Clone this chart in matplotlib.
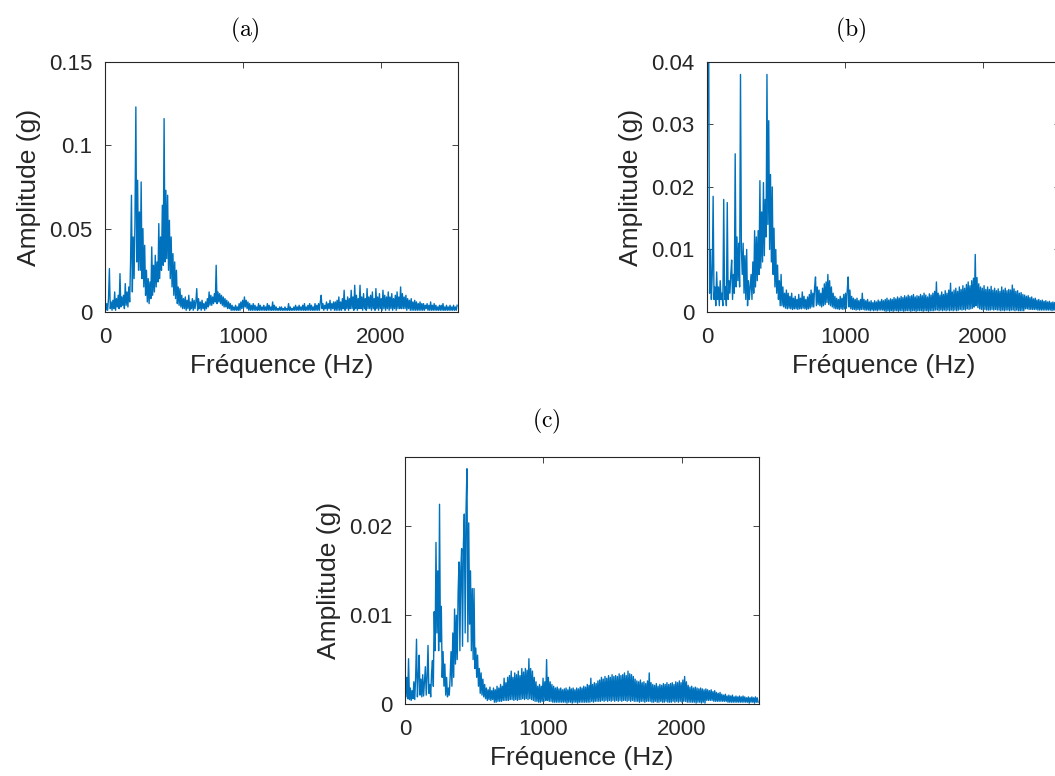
import numpy as np
import matplotlib.pyplot as plt

# FFT bin spacing of the acceleration spectra (Hz)
bin_step = 6.4

# spectrum (a), one row per 128 Hz
amp_a = [
    [0.003, 0.001, 0.005, 0.001, 0.008, 0.026, 0.002, 0.006, 0.001, 0.007, 0.002, 0.012, 0.001, 0.008, 0.003, 0.010, 0.002, 0.023, 0.003, 0.009],
    [0.004, 0.010, 0.002, 0.017, 0.004, 0.012, 0.003, 0.015, 0.006, 0.030, 0.070, 0.012, 0.045, 0.020, 0.055, 0.123, 0.030, 0.079, 0.025, 0.060],
    [0.025, 0.078, 0.020, 0.050, 0.015, 0.040, 0.010, 0.025, 0.006, 0.020, 0.005, 0.018, 0.008, 0.039, 0.010, 0.028, 0.012, 0.034, 0.015, 0.030],
    [0.018, 0.053, 0.020, 0.045, 0.025, 0.064, 0.028, 0.116, 0.030, 0.073, 0.032, 0.070, 0.025, 0.055, 0.020, 0.045, 0.015, 0.035, 0.010, 0.030],
    [0.008, 0.025, 0.005, 0.015, 0.004, 0.014, 0.003, 0.010, 0.002, 0.008, 0.002, 0.009, 0.001, 0.007, 0.002, 0.010, 0.001, 0.006, 0.002, 0.008],
    [0.001, 0.007, 0.002, 0.006, 0.014, 0.001, 0.008, 0.002, 0.006, 0.001, 0.007, 0.002, 0.005, 0.001, 0.006, 0.002, 0.008, 0.003, 0.012, 0.004],
    [0.010, 0.004, 0.009, 0.005, 0.011, 0.006, 0.028, 0.005, 0.012, 0.006, 0.011, 0.005, 0.010, 0.004, 0.009, 0.003, 0.008, 0.003, 0.007, 0.002],
    [0.006, 0.002, 0.005, 0.001, 0.004, 0.001, 0.003, 0.001, 0.004, 0.001, 0.003, 0.001, 0.005, 0.001, 0.006, 0.002, 0.007, 0.002, 0.009, 0.003],
    [0.007, 0.002, 0.006, 0.001, 0.005, 0.001, 0.004, 0.001, 0.005, 0.001, 0.004, 0.001, 0.003, 0.001, 0.005, 0.001, 0.004, 0.001, 0.003, 0.001],
    [0.004, 0.001, 0.003, 0.001, 0.005, 0.001, 0.004, 0.001, 0.003, 0.001, 0.006, 0.001, 0.004, 0.001, 0.003, 0.001, 0.002, 0.001, 0.003, 0.001],
    [0.003, 0.001, 0.002, 0.001, 0.003, 0.001, 0.002, 0.001, 0.005, 0.001, 0.003, 0.001, 0.002, 0.001, 0.003, 0.001, 0.004, 0.001, 0.003, 0.001],
    [0.004, 0.001, 0.003, 0.001, 0.004, 0.001, 0.005, 0.001, 0.003, 0.001, 0.004, 0.001, 0.005, 0.001, 0.004, 0.001, 0.003, 0.001, 0.005, 0.001],
    [0.004, 0.001, 0.005, 0.001, 0.006, 0.010, 0.002, 0.005, 0.001, 0.004, 0.002, 0.006, 0.001, 0.005, 0.002, 0.007, 0.001, 0.005, 0.002, 0.006],
    [0.001, 0.006, 0.001, 0.007, 0.001, 0.009, 0.001, 0.006, 0.001, 0.008, 0.002, 0.013, 0.001, 0.007, 0.002, 0.009, 0.001, 0.008, 0.002, 0.013],
    [0.002, 0.009, 0.001, 0.016, 0.002, 0.010, 0.001, 0.008, 0.002, 0.016, 0.002, 0.009, 0.001, 0.011, 0.002, 0.008, 0.001, 0.014, 0.002, 0.009],
    [0.002, 0.010, 0.001, 0.012, 0.002, 0.008, 0.001, 0.014, 0.002, 0.009, 0.001, 0.011, 0.002, 0.008, 0.001, 0.013, 0.002, 0.010, 0.001, 0.009],
    [0.002, 0.012, 0.001, 0.009, 0.002, 0.011, 0.001, 0.008, 0.002, 0.010, 0.001, 0.012, 0.002, 0.009, 0.002, 0.015, 0.002, 0.011, 0.002, 0.009],
    [0.002, 0.010, 0.001, 0.008, 0.002, 0.007, 0.001, 0.008, 0.001, 0.006, 0.001, 0.007, 0.001, 0.006, 0.001, 0.005, 0.001, 0.006, 0.001, 0.005],
    [0.001, 0.005, 0.001, 0.004, 0.002, 0.005, 0.001, 0.004, 0.001, 0.006, 0.001, 0.004, 0.001, 0.005, 0.001, 0.004, 0.001, 0.003, 0.001, 0.004],
    [0.001, 0.004, 0.001, 0.005, 0.001, 0.003, 0.001, 0.004, 0.001, 0.003, 0.001, 0.004, 0.001, 0.003, 0.001, 0.004, 0.001, 0.003, 0.001, 0.004],
]

# spectrum (b)
amp_b = [
    [0.0040, 0.0500, 0.0420, 0.0030, 0.0100, 0.0020, 0.0060, 0.0185, 0.0020, 0.0040, 0.0010, 0.0064, 0.0020, 0.0040, 0.0010, 0.0050, 0.0020, 0.0030, 0.0010, 0.0180],
    [0.0020, 0.0040, 0.0010, 0.0175, 0.0020, 0.0050, 0.0030, 0.0060, 0.0083, 0.0020, 0.0060, 0.0030, 0.0253, 0.0040, 0.0120, 0.0050, 0.0110, 0.0040, 0.0380, 0.0100],
    [0.0060, 0.0110, 0.0030, 0.0090, 0.0020, 0.0100, 0.0010, 0.0050, 0.0020, 0.0040, 0.0060, 0.0020, 0.0080, 0.0030, 0.0130, 0.0040, 0.0120, 0.0050, 0.0130, 0.0060],
    [0.0210, 0.0070, 0.0160, 0.0080, 0.0207, 0.0090, 0.0180, 0.0120, 0.0380, 0.0140, 0.0306, 0.0100, 0.0220, 0.0080, 0.0200, 0.0060, 0.0134, 0.0040, 0.0100, 0.0030],
    [0.0075, 0.0020, 0.0050, 0.0010, 0.0060, 0.0010, 0.0040, 0.0008, 0.0030, 0.0006, 0.0035, 0.0005, 0.0030, 0.0006, 0.0025, 0.0005, 0.0030, 0.0004, 0.0022, 0.0005],
    [0.0025, 0.0005, 0.0020, 0.0004, 0.0028, 0.0005, 0.0022, 0.0005, 0.0032, 0.0006, 0.0025, 0.0005, 0.0020, 0.0004, 0.0024, 0.0005, 0.0028, 0.0006, 0.0035, 0.0008],
    [0.0030, 0.0008, 0.0040, 0.0056, 0.0010, 0.0040, 0.0012, 0.0035, 0.0010, 0.0030, 0.0008, 0.0038, 0.0010, 0.0045, 0.0012, 0.0048, 0.0015, 0.0060, 0.0012, 0.0050],
    [0.0010, 0.0040, 0.0008, 0.0030, 0.0006, 0.0025, 0.0005, 0.0022, 0.0005, 0.0020, 0.0004, 0.0025, 0.0005, 0.0022, 0.0004, 0.0028, 0.0005, 0.0030, 0.0006, 0.0035],
    [0.0056, 0.0008, 0.0035, 0.0005, 0.0025, 0.0004, 0.0022, 0.0004, 0.0020, 0.0003, 0.0022, 0.0004, 0.0018, 0.0003, 0.0020, 0.0004, 0.0030, 0.0004, 0.0020, 0.0003],
    [0.0018, 0.0003, 0.0020, 0.0003, 0.0016, 0.0002, 0.0018, 0.0003, 0.0015, 0.0002, 0.0018, 0.0003, 0.0016, 0.0002, 0.0019, 0.0003, 0.0017, 0.0003, 0.0020, 0.0003],
    [0.0018, 0.0002, 0.0020, 0.0001, 0.0022, 0.0002, 0.0019, 0.0001, 0.0021, 0.0002, 0.0020, 0.0001, 0.0023, 0.0002, 0.0021, 0.0002, 0.0024, 0.0001, 0.0022, 0.0002],
    [0.0025, 0.0002, 0.0023, 0.0001, 0.0026, 0.0002, 0.0024, 0.0002, 0.0027, 0.0002, 0.0025, 0.0001, 0.0026, 0.0002, 0.0028, 0.0002, 0.0024, 0.0001, 0.0026, 0.0002],
    [0.0025, 0.0002, 0.0028, 0.0002, 0.0026, 0.0001, 0.0030, 0.0002, 0.0027, 0.0002, 0.0024, 0.0001, 0.0029, 0.0002, 0.0027, 0.0002, 0.0030, 0.0002, 0.0033, 0.0003],
    [0.0048, 0.0003, 0.0030, 0.0002, 0.0027, 0.0003, 0.0032, 0.0002, 0.0028, 0.0003, 0.0034, 0.0002, 0.0030, 0.0003, 0.0035, 0.0002, 0.0046, 0.0003, 0.0032, 0.0002],
    [0.0035, 0.0003, 0.0038, 0.0002, 0.0033, 0.0003, 0.0040, 0.0004, 0.0036, 0.0003, 0.0042, 0.0004, 0.0038, 0.0003, 0.0044, 0.0005, 0.0048, 0.0004, 0.0042, 0.0005],
    [0.0050, 0.0006, 0.0054, 0.0008, 0.0092, 0.0010, 0.0055, 0.0007, 0.0045, 0.0005, 0.0040, 0.0004, 0.0038, 0.0003, 0.0042, 0.0004, 0.0036, 0.0003, 0.0040, 0.0003],
    [0.0036, 0.0003, 0.0041, 0.0004, 0.0035, 0.0003, 0.0038, 0.0004, 0.0034, 0.0003, 0.0037, 0.0003, 0.0033, 0.0002, 0.0040, 0.0003, 0.0035, 0.0002, 0.0038, 0.0003],
    [0.0034, 0.0003, 0.0036, 0.0002, 0.0035, 0.0003, 0.0043, 0.0003, 0.0037, 0.0002, 0.0033, 0.0003, 0.0034, 0.0002, 0.0030, 0.0002, 0.0031, 0.0002, 0.0028, 0.0002],
    [0.0027, 0.0005, 0.0025, 0.0005, 0.0026, 0.0004, 0.0023, 0.0004, 0.0024, 0.0004, 0.0021, 0.0004, 0.0022, 0.0004, 0.0019, 0.0003, 0.0020, 0.0003, 0.0018, 0.0003],
    [0.0019, 0.0003, 0.0017, 0.0003, 0.0018, 0.0003, 0.0016, 0.0003, 0.0017, 0.0003, 0.0015, 0.0002, 0.0016, 0.0003, 0.0015, 0.0002, 0.0016, 0.0003, 0.0015, 0.0002],
]

# spectrum (c)
amp_c = [
    [0.0045, 0.0008, 0.0030, 0.0006, 0.0051, 0.0005, 0.0018, 0.0004, 0.0015, 0.0006, 0.0025, 0.0005, 0.0030, 0.0073, 0.0008, 0.0030, 0.0055, 0.0010, 0.0028, 0.0008],
    [0.0033, 0.0009, 0.0025, 0.0042, 0.0010, 0.0030, 0.0066, 0.0012, 0.0022, 0.0008, 0.0035, 0.0049, 0.0020, 0.0104, 0.0060, 0.0182, 0.0080, 0.0150, 0.0060, 0.0225],
    [0.0070, 0.0110, 0.0030, 0.0059, 0.0020, 0.0045, 0.0010, 0.0030, 0.0008, 0.0018, 0.0010, 0.0030, 0.0059, 0.0020, 0.0080, 0.0030, 0.0107, 0.0045, 0.0100, 0.0050],
    [0.0125, 0.0160, 0.0060, 0.0150, 0.0175, 0.0065, 0.0180, 0.0214, 0.0080, 0.0220, 0.0265, 0.0070, 0.0204, 0.0090, 0.0150, 0.0060, 0.0130, 0.0050, 0.0130, 0.0040],
    [0.0063, 0.0030, 0.0055, 0.0020, 0.0040, 0.0012, 0.0035, 0.0010, 0.0028, 0.0008, 0.0022, 0.0006, 0.0018, 0.0004, 0.0016, 0.0005, 0.0019, 0.0004, 0.0015, 0.0005],
    [0.0018, 0.0002, 0.0016, 0.0002, 0.0020, 0.0003, 0.0018, 0.0003, 0.0022, 0.0003, 0.0020, 0.0004, 0.0029, 0.0004, 0.0024, 0.0004, 0.0030, 0.0004, 0.0032, 0.0005],
    [0.0037, 0.0005, 0.0030, 0.0004, 0.0035, 0.0005, 0.0033, 0.0004, 0.0037, 0.0005, 0.0032, 0.0005, 0.0040, 0.0006, 0.0036, 0.0005, 0.0040, 0.0006, 0.0038, 0.0005],
    [0.0051, 0.0006, 0.0040, 0.0005, 0.0037, 0.0004, 0.0030, 0.0003, 0.0025, 0.0003, 0.0020, 0.0002, 0.0022, 0.0002, 0.0020, 0.0003, 0.0029, 0.0003, 0.0025, 0.0004],
    [0.0050, 0.0004, 0.0030, 0.0003, 0.0025, 0.0003, 0.0022, 0.0002, 0.0020, 0.0002, 0.0018, 0.0002, 0.0019, 0.0002, 0.0017, 0.0002, 0.0018, 0.0002, 0.0016, 0.0002],
    [0.0017, 0.0002, 0.0018, 0.0001, 0.0016, 0.0002, 0.0019, 0.0002, 0.0017, 0.0001, 0.0018, 0.0002, 0.0016, 0.0002, 0.0018, 0.0001, 0.0017, 0.0002, 0.0019, 0.0002],
    [0.0018, 0.0002, 0.0020, 0.0002, 0.0019, 0.0002, 0.0022, 0.0002, 0.0021, 0.0002, 0.0029, 0.0003, 0.0022, 0.0002, 0.0024, 0.0003, 0.0023, 0.0003, 0.0026, 0.0003],
    [0.0027, 0.0003, 0.0030, 0.0004, 0.0028, 0.0003, 0.0031, 0.0004, 0.0029, 0.0003, 0.0032, 0.0004, 0.0030, 0.0003, 0.0033, 0.0004, 0.0031, 0.0003, 0.0032, 0.0004],
    [0.0031, 0.0003, 0.0034, 0.0004, 0.0032, 0.0003, 0.0033, 0.0004, 0.0035, 0.0004, 0.0032, 0.0003, 0.0037, 0.0004, 0.0034, 0.0003, 0.0033, 0.0004, 0.0031, 0.0003],
    [0.0028, 0.0003, 0.0026, 0.0003, 0.0025, 0.0002, 0.0027, 0.0003, 0.0024, 0.0003, 0.0025, 0.0002, 0.0023, 0.0003, 0.0026, 0.0003, 0.0035, 0.0003, 0.0024, 0.0002],
    [0.0022, 0.0002, 0.0021, 0.0003, 0.0023, 0.0002, 0.0020, 0.0002, 0.0022, 0.0003, 0.0021, 0.0002, 0.0023, 0.0002, 0.0022, 0.0003, 0.0024, 0.0002, 0.0022, 0.0002],
    [0.0023, 0.0002, 0.0024, 0.0003, 0.0022, 0.0002, 0.0025, 0.0003, 0.0024, 0.0002, 0.0026, 0.0003, 0.0024, 0.0002, 0.0027, 0.0003, 0.0031, 0.0003, 0.0025, 0.0002],
    [0.0021, 0.0002, 0.0019, 0.0002, 0.0020, 0.0002, 0.0018, 0.0002, 0.0019, 0.0001, 0.0018, 0.0002, 0.0017, 0.0002, 0.0018, 0.0001, 0.0017, 0.0002, 0.0016, 0.0001],
    [0.0017, 0.0004, 0.0016, 0.0004, 0.0015, 0.0004, 0.0016, 0.0004, 0.0014, 0.0003, 0.0015, 0.0003, 0.0013, 0.0003, 0.0012, 0.0003, 0.0013, 0.0003, 0.0011, 0.0003],
    [0.0010, 0.0003, 0.0011, 0.0003, 0.0009, 0.0002, 0.0010, 0.0002, 0.0009, 0.0002, 0.0010, 0.0002, 0.0008, 0.0002, 0.0009, 0.0002, 0.0008, 0.0002, 0.0009, 0.0002],
    [0.0008, 0.0002, 0.0009, 0.0002, 0.0008, 0.0002, 0.0007, 0.0002, 0.0008, 0.0001, 0.0007, 0.0002, 0.0008, 0.0002, 0.0007, 0.0001, 0.0008, 0.0002, 0.0007, 0.0002],
]

xticks = [0, 1000, 2000]
yticks_a = [0, 0.05, 0.1, 0.15]
yticks_b = [0, 0.01, 0.02, 0.03, 0.04]
yticks_c = [0, 0.01, 0.02]
ylim_a = 0.15
ylim_b = 0.04
ylim_c = 0.0278

blue = '#0072BD'
dark = '#262626'

plt.rcParams['font.family'] = ['Liberation Sans', 'DejaVu Sans']
plt.rcParams['mathtext.fontset'] = 'cm'

fig = plt.figure(figsize=(10.55, 7.76), dpi=100)


def spectrum(rect, amp, ylim, yticks):
    values = np.concatenate([np.asarray(row) for row in amp])
    freq = np.arange(len(values)) * bin_step
    ax = fig.add_axes(rect)
    ax.plot(freq, values, color=blue, lw=1.0)
    ax.set_xlim(0, 2560)
    ax.set_ylim(0, ylim)
    ax.set_xticks(xticks)
    ax.set_xticklabels([str(t) for t in xticks])
    ax.set_yticks(yticks)
    ax.set_yticklabels(['0'] + ['%g' % t for t in yticks[1:]])
    ax.tick_params(direction='in', top=True, right=True, length=4, width=0.6,
                   colors=dark, labelsize=16)
    ax.tick_params(axis='x', pad=11)
    ax.tick_params(axis='y', pad=9)
    for sp in ax.spines.values():
        sp.set_color(dark)
        sp.set_linewidth(0.8)
        sp.set_zorder(3)
    ax.set_xlabel('Fréquence (Hz)', fontsize=19, color=dark, labelpad=4)
    ax.set_ylabel('Amplitude (g)', fontsize=19, color=dark, labelpad=6)
    return ax


spectrum([0.0995, 0.598, 0.3346, 0.3222], amp_a, ylim_a, yticks_a)
spectrum([0.6701, 0.598, 0.3346, 0.3222], amp_b, ylim_b, yticks_b)
spectrum([0.3839, 0.0928, 0.3355, 0.318], amp_c, ylim_c, yticks_c)

fig.text(245 / 1055, 1 - 30 / 776, r'$\mathrm{(a)}$', fontsize=17, ha='center', va='center')
fig.text(851 / 1055, 1 - 30 / 776, r'$\mathrm{(b)}$', fontsize=17, ha='center', va='center')
fig.text(546 / 1055, 1 - 421 / 776, r'$\mathrm{(c)}$', fontsize=17, ha='center', va='center')

fig.savefig('out.png', dpi=100)
